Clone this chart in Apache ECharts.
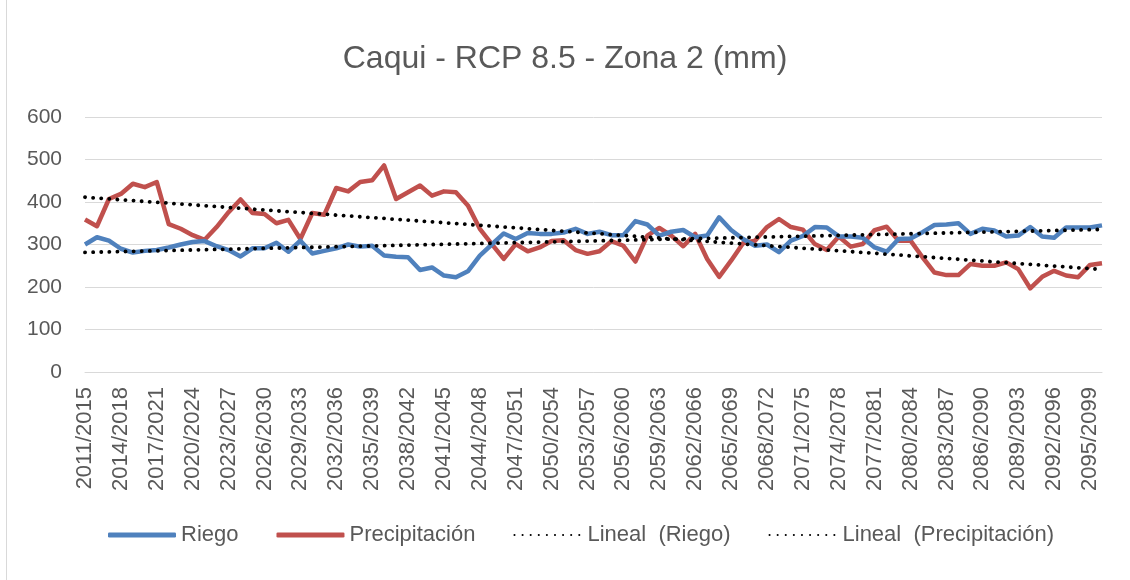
<!DOCTYPE html>
<html>
<head>
<meta charset="utf-8">
<script src="https://cdn.jsdelivr.net/npm/echarts@6/dist/echarts.min.js"></script>
<style>
html,body{margin:0;padding:0;background:#fff;}
#wrap{position:relative;width:1130px;height:580px;}
#chart{position:absolute;left:0;top:0;width:1130px;height:580px;}
#edge{position:absolute;left:6px;top:0;width:1px;height:580px;background:#d9d9d9;}
</style>
</head>
<body>
<div id="wrap"><div id="edge"></div><div id="chart"></div></div>
<script>
var categories = [];
for (var y = 2011; y <= 2096; y++) categories.push(y + '/' + (y + 4));

var riego = [300,317,309,290,281,285,287,293,300,306,308,296,287,272,291,291,304,283,309,279,
285,291,300,295,297,274,271,270,240,246,227,223,237,274,300,326,313,327,325,325,
328,337,325,330,322,322,355,347,321,330,334,317,321,364,334,313,297,300,282,309,
320,341,340,319,319,316,293,283,313,314,329,346,347,350,325,337,333,319,321,341,
319,316,340,340,340,345];

var precipitacion = [359,343,407,419,443,435,447,348,337,322,311,341,376,406,374,372,350,358,313,374,
370,433,425,447,451,486,407,423,439,415,425,423,392,337,301,266,301,284,293,308,
310,287,278,284,308,297,260,321,339,321,296,325,266,224,262,303,309,341,360,341,
335,301,287,319,295,301,334,342,309,309,270,234,228,228,254,250,250,258,242,197,
224,238,227,223,252,256];

var yTicks = [0,100,200,300,400,500,600];

function linearTrend(vals) {
  var n = vals.length, sx = 0, sy = 0, sxy = 0, sxx = 0;
  for (var i = 0; i < n; i++) { sx += i; sy += vals[i]; sxy += i * vals[i]; sxx += i * i; }
  var b = (n * sxy - sx * sy) / (n * sxx - sx * sx);
  var a = (sy - b * sx) / n;
  return vals.map(function (v, i) { return +(a + b * i).toFixed(2); });
}

var trendRiego = linearTrend(riego);
var trendPrec = linearTrend(precipitacion);

var FONT = 'Liberation Sans';
var chart = echarts.init(document.getElementById('chart'));
var dotted = { color: '#000', width: 3.8, type: [0.1, 8], cap: 'round' };
chart.setOption({
  animation: false,
  title: {
    text: 'Caqui - RCP 8.5 - Zona 2 (mm)',
    left: 'center', top: 38,
    textStyle: { fontFamily: FONT, fontSize: 32, fontWeight: 'normal', color: '#595959' }
  },
  grid: { left: 85, right: 28, top: 117, bottom: 208, containLabel: false },
  legend: {
    bottom: 29, left: 103,
    itemWidth: 68, itemHeight: 5, itemGap: 38,
    textStyle: { fontFamily: FONT, fontSize: 22, color: '#595959' },
    data: [
      { name: 'Riego', icon: 'roundRect' },
      { name: 'Precipitación', icon: 'roundRect' },
      { name: 'Lineal  (Riego)', itemStyle: { opacity: 0 } },
      { name: 'Lineal  (Precipitación)', itemStyle: { opacity: 0 } }
    ]
  },
  xAxis: {
    type: 'category', data: categories, boundaryGap: false,
    axisLine: { lineStyle: { color: '#d9d9d9', width: 1 } },
    axisTick: { show: false },
    axisLabel: { interval: 2, rotate: 90, margin: 15, fontFamily: FONT, fontSize: 22, color: '#595959' }
  },
  yAxis: {
    type: 'value', min: 0, max: 600, interval: 100,
    axisLine: { show: false }, axisTick: { show: false },
    splitLine: { lineStyle: { color: '#d9d9d9', width: 1 } },
    axisLabel: { margin: 23, fontFamily: FONT, fontSize: 21, color: '#595959' }
  },
  series: [
    { name: 'Riego', type: 'line', data: riego, showSymbol: false, symbol: 'none',
      lineStyle: { color: '#4F81BD', width: 4.5, join: 'round' }, itemStyle: { color: '#4F81BD' }, z: 3 },
    { name: 'Precipitación', type: 'line', data: precipitacion, showSymbol: false, symbol: 'none',
      lineStyle: { color: '#C0504D', width: 4.5, join: 'round' }, itemStyle: { color: '#C0504D' }, z: 2 },
    { name: 'Lineal  (Riego)', type: 'line', data: trendRiego, showSymbol: false, symbol: 'none',
      lineStyle: dotted, itemStyle: { color: '#000' }, z: 4 },
    { name: 'Lineal  (Precipitación)', type: 'line', data: trendPrec, showSymbol: false, symbol: 'none',
      lineStyle: dotted, itemStyle: { color: '#000' }, z: 4 }
  ]
});
</script>
</body>
</html>
